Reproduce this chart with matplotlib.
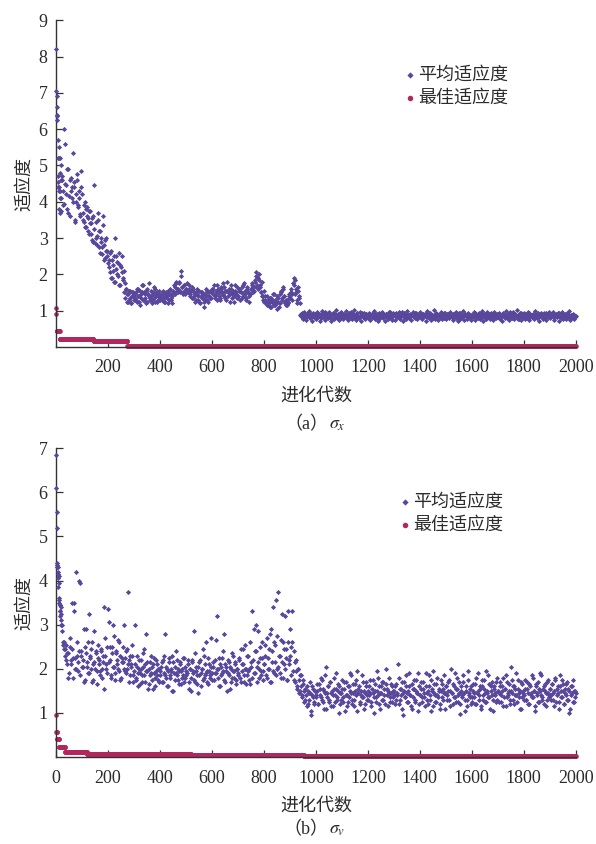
import numpy as np
import matplotlib
matplotlib.use('Agg')
import matplotlib.pyplot as plt

plt.rcParams['font.family'] = ['Liberation Serif', 'Noto Sans CJK SC']
plt.rcParams['mathtext.fontset'] = 'stix'

# generations sampled for the average fitness
gen_even4 = np.arange(4, 2001, 4)   # 4, 8, ..., 2000
gen_odd4 = np.arange(2, 2000, 4)    # 2, 6, ..., 1998
early_gen = [0, 1, 2, 3, 5, 6, 7, 9, 10, 11, 13, 14, 15, 17, 18, 19]

# (a) sigma_x : average fitness
avg_a_early = [8.2, 7.05, 6.6, 6.35, 6.9, 4.7, 5.7, 5.2, 4.4, 5.5, 4.3, 4.8, 3.7, 5.2, 4.1, 4.6]
avg_a = [
    6.25, 4.4, 3.8, 4.3, 5.0, 4.6, 3.9, 6.0, 4.5, 4.2, 4.9, 3.7, 4.6, 4.3, 4.1, 5.35, 4.4, 3.5, 4.0, 4.6, 3.9, 4.3, 3.6, 4.85, 4.2,
    3.5, 3.9, 3.3, 3.8, 3.6, 3.2, 3.75, 3.4, 3.1, 3.55, 2.9, 4.45, 3.0, 2.8, 3.5, 3.2, 2.6, 3.0, 2.75, 3.6, 2.4, 2.95, 2.65, 2.5, 2.3,
    2.2, 2.6, 1.9, 2.4, 2.1, 1.8, 3.0, 2.5, 2.0, 2.3, 1.7, 2.25, 2.5, 1.9, 2.1, 1.75, 1.6, 1.45, 1.25, 1.55, 1.35, 1.2, 1.5, 1.4, 1.3,
    1.45, 1.3, 1.6, 1.4, 1.25, 1.55, 1.35, 1.5, 1.7, 1.3, 1.45, 1.2, 1.6, 1.4, 1.35, 1.55, 1.3, 1.45, 1.65, 1.25, 1.4, 1.5, 1.3, 1.45, 1.35,
    1.4, 1.3, 1.5, 1.35, 1.25, 1.45, 1.4, 1.55, 1.3, 1.45, 1.35, 1.2, 1.5, 1.65, 1.75, 1.55, 1.6, 1.8, 1.5, 2.1, 1.65, 1.45, 1.7, 1.55, 1.6,
    1.75, 1.5, 1.6, 1.4, 1.55, 1.65, 1.35, 1.5, 1.45, 1.3, 1.6, 1.4, 1.25, 1.5, 1.35, 1.45, 1.1, 1.3, 1.4, 1.55, 1.25, 1.4, 1.35, 1.5, 1.6,
    1.45, 1.7, 1.4, 1.55, 1.3, 1.6, 1.5, 1.35, 1.65, 1.45, 1.75, 1.4, 1.55, 1.3, 1.5, 1.6, 1.45, 1.7, 1.35, 1.5, 1.25, 1.55, 1.45, 1.65, 1.4,
    1.55, 1.3, 1.5, 1.65, 1.4, 1.75, 1.45, 1.35, 1.6, 1.5, 1.25, 1.45, 1.6, 1.7, 1.55, 1.85, 2.05, 1.65, 1.9, 2.0, 1.7, 1.5, 1.8, 1.4, 1.55,
    1.3, 1.2, 1.4, 1.15, 1.25, 1.35, 1.1, 1.3, 1.2, 1.45, 1.15, 1.25, 1.05, 1.35, 1.2, 1.5, 1.3, 1.6, 1.4, 1.25, 1.15, 1.3, 1.2, 1.45, 1.35,
    1.5, 1.3, 1.75, 1.9, 1.45, 1.6, 1.2, 1.55, 1.35, 0.88, 0.84, 0.92, 0.86, 0.8, 0.89, 0.85, 0.93, 0.82, 0.87, 0.9, 0.83, 0.88, 0.86, 0.91, 0.84,
    0.88, 0.83, 0.9, 0.86, 0.8, 0.92, 0.85, 0.87, 0.95, 0.82, 0.89, 0.84, 0.91, 0.86, 0.79, 0.88, 0.93, 0.85, 0.87, 0.81, 0.9, 0.86, 0.84, 0.96, 0.88,
    0.85, 0.91, 0.82, 0.87, 0.89, 0.84, 0.93, 0.86, 0.8, 0.88, 0.9, 0.83, 0.87, 0.85, 0.92, 0.81, 0.86, 0.89, 0.94, 0.84, 0.87, 0.82, 0.9, 0.86, 0.88,
    0.84, 0.9, 0.87, 0.81, 0.93, 0.86, 0.88, 0.83, 0.91, 0.85, 0.78, 0.89, 0.86, 0.92, 0.84, 0.87, 0.9, 0.82, 0.88, 0.85, 0.95, 0.86, 0.83, 0.89, 0.87,
    0.9, 0.85, 0.88, 0.82, 0.86, 0.92, 0.84, 0.97, 0.87, 0.81, 0.89, 0.86, 0.91, 0.83, 0.88, 0.85, 0.9, 0.84, 0.87, 0.93, 0.8, 0.86, 0.89, 0.85, 0.91,
    0.86, 0.83, 0.9, 0.87, 0.85, 0.94, 0.82, 0.88, 0.86, 0.91, 0.84, 0.87, 0.79, 0.89, 0.85, 0.92, 0.86, 0.88, 0.83, 0.9, 0.87, 0.85, 0.93, 0.81, 0.88,
    0.87, 0.91, 0.84, 0.86, 0.89, 0.82, 0.9, 0.85, 0.88, 0.95, 0.83, 0.87, 0.86, 0.92, 0.8, 0.88, 0.85, 0.9, 0.84, 0.87, 0.91, 0.86, 0.82, 0.89, 0.85,
    0.88, 0.84, 0.92, 0.86, 0.81, 0.9, 0.87, 0.85, 0.93, 0.83, 0.88, 0.86, 0.9, 0.78, 0.87, 0.84, 0.91, 0.86, 0.89, 0.82, 0.94, 0.85, 0.88, 0.86, 0.9,
    0.85, 0.89, 0.83, 0.87, 0.92, 0.86, 0.8, 0.88, 0.85, 0.91, 0.84, 0.96, 0.87, 0.82, 0.89, 0.86, 0.9, 0.84, 0.88, 0.77, 0.86, 0.92, 0.85, 0.87, 0.83,
    0.9, 0.86, 0.88, 0.84, 0.93, 0.82, 0.87, 0.89, 0.85, 0.91, 0.83, 0.88, 0.86, 0.94, 0.81, 0.87, 0.9, 0.85, 0.88, 0.83, 0.92, 0.86, 0.89, 0.84, 0.87,
    0.86, 0.91, 0.84, 0.88, 0.82, 0.9, 0.87, 0.85, 0.93, 0.86, 0.89, 0.83, 0.88, 0.85, 0.91, 0.87, 0.84, 0.9, 0.86, 0.82, 0.89, 0.85, 0.88, 0.83, 0.86,
]
# in-between generations, in hundredths
avg_a2 = [
    640, 455, 520, 410, 375, 470, 430, 395, 560, 445, 380, 490, 415, 360, 465, 440, 400, 455, 345, 420, 475, 385, 410, 365, 440,
    370, 345, 400, 330, 385, 355, 310, 375, 340, 295, 360, 325, 285, 345, 305, 370, 275, 320, 290, 255, 335, 280, 245, 300, 265,
    240, 205, 265, 190, 225, 250, 180, 215, 235, 195, 260, 170, 220, 205, 185, 150, 135, 160, 125, 145, 130, 155, 120, 140, 150,
    135, 150, 125, 160, 140, 115, 145, 170, 130, 150, 135, 155, 125, 145, 175, 130, 140, 120, 150, 135, 160, 145, 125, 140, 155,
    130, 145, 155, 125, 140, 150, 135, 120, 145, 160, 130, 140, 155, 170, 145, 180, 160, 150, 175, 155, 195, 165, 150, 170, 145,
    160, 150, 170, 145, 155, 135, 160, 140, 125, 150, 145, 130, 155, 120, 140, 150, 135, 125, 145, 160, 130, 150, 140, 155, 135,
    150, 160, 135, 145, 170, 155, 140, 130, 160, 150, 145, 165, 135, 155, 180, 140, 150, 125, 160, 145, 155, 140, 170, 150, 135,
    140, 160, 150, 135, 170, 145, 155, 130, 165, 150, 140, 145, 160, 175, 150, 165, 180, 195, 170, 160, 185, 165, 150, 140, 130,
    125, 140, 115, 130, 120, 110, 135, 125, 145, 115, 130, 120, 140, 125, 110, 145, 155, 135, 165, 140, 120, 130, 115, 125, 140,
    135, 160, 145, 170, 185, 150, 130, 165, 140, 120, 90, 82, 78, 95, 86, 74, 91, 84, 99, 80, 88, 72, 93, 85, 79,
    78, 95, 84, 72, 90, 100, 81, 87, 74, 93, 86, 79, 97, 83, 70, 89, 92, 76, 85, 101, 80, 88, 73, 94, 82,
    91, 76, 86, 98, 80, 73, 89, 84, 95, 78, 87, 102, 81, 75, 92, 85, 79, 96, 71, 88, 83, 93, 77, 90, 86,
    80, 94, 74, 88, 83, 99, 77, 90, 85, 72, 92, 81, 87, 96, 79, 84, 70, 91, 86, 78, 97, 82, 89, 75, 93,
    87, 73, 92, 81, 96, 78, 85, 89, 71, 94, 83, 77, 100, 86, 80, 91, 74, 88, 95, 82, 79, 93, 76, 87, 84,
    95, 80, 77, 90, 84, 72, 98, 86, 79, 92, 75, 88, 83, 101, 78, 85, 91, 73, 89, 82, 96, 76, 87, 80, 93,
    76, 91, 85, 79, 97, 82, 74, 89, 93, 80, 86, 71, 94, 78, 88, 83, 99, 75, 90, 84, 77, 92, 81, 86, 73,
    89, 83, 96, 74, 87, 80, 93, 78, 85, 100, 72, 91, 84, 79, 95, 81, 88, 76, 92, 86, 73, 97, 82, 79, 90,
    82, 94, 77, 88, 71, 91, 85, 98, 79, 86, 74, 92, 83, 80, 96, 76, 89, 84, 102, 78, 87, 93, 75, 90, 81,
    93, 78, 86, 80, 95, 73, 88, 82, 91, 76, 99, 84, 79, 90, 72, 87, 94, 81, 77, 92, 85, 74, 89, 83, 96,
    79, 90, 84, 97, 75, 88, 82, 93, 71, 86, 80, 95, 78, 89, 84, 76, 92, 81, 98, 74, 87, 83, 91, 77, 85,
]
# (a) best fitness: generation where each level starts, and the level
best_a_start = [0, 1, 2, 15, 145, 275]
best_a_val = [1.07, 0.9, 0.43, 0.21, 0.17, 0.02]

# (b) sigma_v : average fitness
avg_b_early = [6.85, 6.1, 4.4, 4.35, 5.55, 4.2, 4.15, 3.85, 4.1, 3.5, 3.55, 3.3, 3.45, 3.2, 3.0, 3.4]
avg_b = [
    4.3, 4.05, 3.6, 3.3, 3.25, 3.0, 2.55, 2.6, 2.45, 2.2, 2.35, 1.8, 2.5, 2.1, 3.5, 2.25, 3.3, 2.0, 4.2, 2.3, 1.95, 4.0, 3.95, 2.4, 2.05,
    2.2, 1.7, 2.5, 2.9, 2.05, 1.9, 3.25, 2.3, 2.0, 2.6, 1.75, 2.15, 2.4, 1.95, 2.25, 2.1, 1.85, 2.45, 2.0, 2.3, 1.55, 2.7, 2.1, 1.9, 3.35,
    3.05, 2.2, 1.8, 2.5, 2.05, 2.75, 1.9, 2.35, 2.1, 2.0, 2.6, 1.75, 2.25, 2.15, 3.0, 1.95, 2.4, 2.0, 3.75, 2.2, 1.85, 2.1, 2.3, 1.7, 1.95,
    3.0, 1.8, 2.05, 1.6, 2.2, 1.9, 2.0, 1.7, 2.35, 1.85, 2.1, 2.8, 1.95, 1.65, 2.15, 1.9, 2.05, 1.55, 2.25, 1.8, 1.95, 2.1, 1.75, 2.0, 1.85,
    2.05, 1.7, 2.2, 1.9, 2.8, 1.8, 2.0, 1.6, 2.15, 1.85, 1.95, 2.3, 1.5, 2.05, 1.9, 2.2, 1.75, 1.95, 2.1, 1.65, 2.0, 1.85, 2.25, 1.8, 1.95,
    1.9, 2.1, 1.55, 2.0, 1.8, 2.2, 1.95, 2.85, 1.7, 2.05, 1.85, 1.45, 2.15, 1.9, 2.0, 1.75, 2.3, 1.85, 2.6, 1.95, 1.65, 2.1, 1.8, 2.7, 1.9,
    2.05, 1.75, 2.2, 1.9, 3.2, 2.0, 1.6, 2.1, 1.85, 2.25, 1.95, 2.8, 1.7, 2.05, 1.9, 2.15, 1.55, 2.0, 1.8, 2.3, 1.95, 2.1, 1.75, 2.0, 1.85,
    2.2, 1.8, 2.45, 1.95, 2.1, 1.7, 2.55, 2.0, 1.85, 2.3, 2.0, 1.65, 2.15, 3.3, 1.9, 2.4, 3.0, 2.05, 2.85, 1.8, 2.25, 1.95, 2.6, 1.75, 2.1,
    2.3, 1.85, 2.7, 2.0, 2.45, 1.7, 2.9, 2.15, 3.4, 1.9, 2.55, 3.55, 2.0, 3.75, 2.3, 1.8, 3.25, 2.6, 2.1, 3.2, 2.45, 1.75, 3.3, 2.2, 2.9,
    2.5, 3.3, 1.95, 2.4, 1.7, 2.2, 1.55, 2.0, 1.45, 1.85, 1.6, 1.35, 1.75, 1.5, 1.3, 1.6, 1.2, 1.45, 1.7, 0.95, 1.4, 1.55, 1.25, 1.5, 1.35,
    1.5, 1.2, 1.65, 1.4, 1.8, 1.3, 1.55, 1.1, 1.45, 2.05, 1.35, 1.6, 1.25, 1.7, 1.45, 1.15, 1.55, 1.4, 1.9, 1.3, 1.5, 1.6, 1.2, 1.45, 1.75,
    1.35, 1.55, 1.05, 1.7, 1.4, 1.25, 1.6, 1.5, 1.85, 1.3, 1.45, 1.15, 1.65, 1.4, 1.95, 1.55, 1.2, 1.5, 1.35, 1.7, 1.1, 1.45, 1.6, 1.3, 1.5,
    1.4, 1.75, 1.25, 1.55, 1.45, 1.0, 1.65, 1.35, 1.5, 1.8, 1.2, 1.45, 1.6, 1.3, 1.7, 1.4, 2.0, 1.55, 1.15, 1.45, 1.35, 1.65, 1.25, 1.5, 1.4,
    1.6, 1.3, 1.45, 2.1, 1.2, 1.55, 1.4, 1.7, 0.95, 1.5, 1.35, 1.85, 1.45, 1.25, 1.6, 1.4, 1.1, 1.55, 1.75, 1.3, 1.5, 1.45, 1.9, 1.2, 1.4,
    1.55, 1.35, 1.7, 1.45, 1.15, 1.6, 1.3, 1.5, 1.85, 1.4, 1.05, 1.55, 1.95, 1.45, 1.25, 1.65, 1.4, 1.5, 1.2, 1.75, 1.35, 1.55, 1.45, 1.1, 1.6,
    1.4, 1.7, 1.3, 1.5, 2.0, 1.45, 1.2, 1.6, 1.35, 1.55, 1.8, 1.25, 1.45, 0.98, 1.6, 1.4, 1.7, 1.3, 1.5, 1.15, 1.95, 1.45, 1.35, 1.6, 1.25,
    1.5, 1.35, 1.65, 1.2, 1.45, 1.9, 1.4, 1.55, 1.1, 1.6, 1.3, 1.75, 1.45, 1.25, 1.5, 1.85, 1.35, 1.6, 1.4, 1.05, 1.55, 1.45, 1.7, 1.3, 1.5,
    1.45, 1.6, 1.25, 1.5, 1.8, 1.35, 1.55, 1.15, 1.7, 1.4, 1.5, 1.3, 2.05, 1.45, 1.6, 1.2, 1.55, 1.4, 1.75, 1.35, 1.5, 1.1, 1.65, 1.45, 1.3,
    1.55, 1.3, 1.7, 1.45, 1.2, 1.6, 1.4, 1.85, 1.35, 1.5, 1.05, 1.65, 1.45, 1.25, 1.55, 1.9, 1.4, 1.3, 1.6, 1.5, 1.15, 1.7, 1.45, 1.35, 1.55,
    1.4, 1.65, 1.3, 1.5, 1.8, 1.25, 1.55, 1.45, 1.1, 1.6, 1.35, 1.75, 1.5, 1.2, 1.45, 1.65, 1.3, 1.55, 1.0, 1.4, 1.6, 1.25, 1.5, 1.35, 1.45,
]
avg_b2 = [
    520, 430, 395, 345, 310, 285, 260, 245, 230, 255, 210, 235, 190, 270, 220, 245, 180, 350, 225, 200, 260, 215, 240, 185, 230,
    205, 290, 175, 235, 215, 260, 190, 225, 245, 170, 210, 285, 200, 235, 165, 255, 220, 195, 240, 180, 215, 340, 230, 200, 250,
    215, 250, 185, 235, 300, 205, 175, 240, 220, 265, 195, 230, 180, 215, 250, 200, 225, 190, 245, 210, 170, 230, 205, 255, 185,
    210, 175, 230, 190, 200, 165, 220, 185, 205, 245, 170, 195, 215, 155, 200, 185, 230, 175, 210, 190, 160, 220, 185, 200, 170,
    195, 215, 170, 230, 185, 205, 160, 195, 225, 180, 200, 150, 215, 190, 175, 240, 185, 200, 165, 215, 195, 180, 225, 170, 205,
    185, 220, 170, 200, 150, 215, 190, 175, 235, 195, 165, 205, 185, 220, 160, 200, 245, 180, 210, 190, 170, 225, 195, 185, 205,
    175, 215, 190, 265, 200, 180, 225, 160, 205, 190, 240, 175, 210, 195, 150, 220, 185, 205, 170, 235, 195, 180, 215, 165, 200,
    190, 225, 170, 210, 245, 185, 200, 165, 230, 195, 175, 260, 205, 180, 220, 290, 190, 240, 170, 215, 200, 250, 185, 225, 195,
    210, 255, 180, 225, 200, 280, 170, 240, 195, 260, 215, 185, 275, 205, 230, 190, 265, 215, 180, 245, 200, 225, 175, 260, 210,
    230, 185, 260, 175, 215, 195, 160, 200, 175, 150, 185, 140, 165, 125, 155, 140, 115, 150, 130, 145, 105, 160, 135, 120, 150,
    140, 165, 120, 155, 135, 175, 125, 150, 185, 110, 145, 160, 130, 170, 115, 150, 140, 180, 125, 155, 135, 165, 100, 145, 130,
    155, 125, 170, 140, 115, 160, 135, 190, 145, 120, 165, 130, 150, 175, 105, 145, 160, 125, 140, 185, 135, 150, 120, 170, 140,
    130, 160, 145, 115, 175, 135, 150, 125, 195, 140, 160, 110, 145, 170, 130, 155, 120, 165, 140, 150, 180, 125, 145, 160, 135,
    150, 120, 165, 140, 180, 130, 155, 110, 145, 170, 135, 160, 125, 150, 190, 140, 115, 165, 135, 155, 125, 175, 145, 105, 160,
    140, 170, 125, 155, 135, 190, 145, 120, 160, 130, 175, 150, 115, 165, 140, 125, 180, 135, 155, 110, 150, 165, 130, 185, 145,
    160, 130, 150, 175, 115, 145, 165, 135, 190, 125, 155, 140, 170, 120, 150, 135, 185, 145, 105, 160, 130, 175, 140, 155, 120,
    135, 165, 145, 120, 180, 150, 130, 160, 115, 175, 140, 155, 125, 195, 145, 135, 165, 110, 150, 170, 130, 160, 140, 125, 180,
    150, 125, 170, 140, 160, 115, 155, 185, 135, 145, 165, 120, 150, 175, 130, 160, 140, 190, 125, 155, 145, 110, 170, 135, 150,
    140, 175, 130, 155, 120, 165, 145, 135, 180, 150, 115, 160, 140, 170, 125, 150, 185, 135, 155, 120, 165, 145, 130, 175, 140,
    155, 130, 165, 145, 115, 175, 140, 160, 125, 185, 150, 135, 165, 120, 155, 140, 170, 130, 150, 110, 160, 145, 175, 125, 150,
]
best_b_start = [0, 1, 4, 12, 35, 120, 520, 955]
best_b_val = [0.95, 0.57, 0.42, 0.22, 0.11, 0.08, 0.055, 0.02]

avg_color = '#58479b'
best_color = '#b3275f'
text_color = '#2b2b2b'


def step_values(starts, vals, gens):
    idx = np.searchsorted(starts, gens, side='right') - 1
    return np.asarray(vals)[idx]


fig = plt.figure(figsize=(5.96, 8.44), dpi=100)
ax_a = fig.add_axes([0.094, 0.589, 0.872, 0.387])
ax_b = fig.add_axes([0.094, 0.103, 0.872, 0.366])

all_gen = np.arange(0, 2001)
panels = [
    (ax_a, avg_a_early, avg_a, avg_a2, best_a_start, best_a_val, 9, range(200, 2001, 200),
     '（a）', r'$\sigma_x$', 0.497, (0.666, 0.932)),
    (ax_b, avg_b_early, avg_b, avg_b2, best_b_start, best_b_val, 7, range(0, 2001, 200),
     '（b）', r'$\sigma_v$', 0.017, (0.658, 0.426)),
]

for ax, early, avg, avg2, bstart, bval, ymax, xt, cap1, cap2, cap_y, leg_pos in panels:
    gx = np.concatenate([early_gen, gen_even4, gen_odd4])
    gy = np.concatenate([early, avg, np.asarray(avg2) / 100.0])
    ax.scatter(gx, gy, s=7, marker='D', color=avg_color, linewidths=0,
               clip_on=False, zorder=3, label='平均适应度')
    ax.scatter(all_gen, step_values(bstart, bval, all_gen), s=11, marker='o',
               color=best_color, linewidths=0, clip_on=False, zorder=2, label='最佳适应度')
    ax.set_xlim(0, 2000)
    ax.set_ylim(0, ymax)
    ax.set_xticks(list(xt))
    ax.set_yticks(range(1, ymax + 1))
    for s in ['top', 'right']:
        ax.spines[s].set_visible(False)
    for s in ['left', 'bottom']:
        ax.spines[s].set_color('#333333')
        ax.spines[s].set_linewidth(1.0)
    ax.tick_params(direction='in', length=5, width=0.9, color='#333333',
                   labelsize=13, labelcolor=text_color)
    ax.tick_params(axis='x', pad=9)
    ax.tick_params(axis='y', pad=6)
    ax.set_xlabel('进化代数', fontsize=13, color=text_color, labelpad=8)
    ax.set_ylabel('适应度', fontsize=13, color=text_color, labelpad=4)
    fig.text(0.551, cap_y, cap1, ha='right', va='center', fontsize=13, color=text_color)
    fig.text(0.552, cap_y, cap2, ha='left', va='center', fontsize=13, color=text_color)
    ax.legend(loc='upper left', bbox_to_anchor=leg_pos, bbox_transform=fig.transFigure,
              frameon=False, fontsize=13, handlelength=0.4, handletextpad=0.25,
              labelspacing=0.35, borderpad=0, markerscale=1.2, labelcolor=text_color)

fig.savefig('out.png', dpi=100)
